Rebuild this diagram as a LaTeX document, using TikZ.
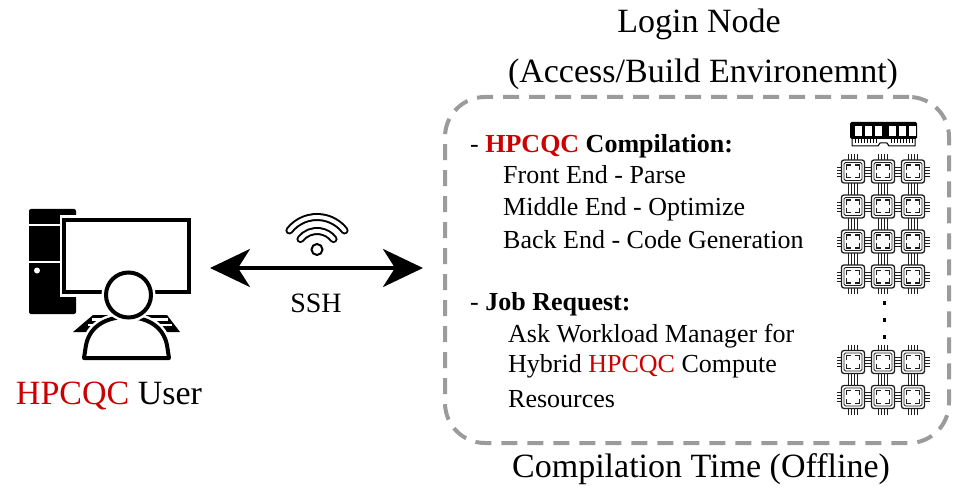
\documentclass[tikz,border=0pt]{standalone}
\usepackage{fontspec}
\setmainfont{Liberation Serif}
\usetikzlibrary{arrows.meta}
\definecolor{hpcred}{RGB}{204,0,0}
\definecolor{boxgray}{RGB}{155,155,155}
\definecolor{chipink}{RGB}{30,30,30}

\begin{document}
\begin{tikzpicture}[x=1pt,y=-1pt,
  title/.style={font=\fontsize{34}{40}\selectfont, anchor=base, inner sep=0pt},
  item/.style={font=\fontsize{26}{30}\selectfont, anchor=base west, inner sep=0pt},
  gap/.style={white, line width=9pt},
  outline/.style={black, line width=4pt},
  wifiarc/.style={line width=8pt, line cap=round},
  wifiinner/.style={white, line width=4pt, line cap=round},
  pinline/.style={line width=0.85pt},
  cpuchip/.pic={
    \begin{scope}[chipink]
    \draw[line width=1.3pt, rounded corners=2.5pt] (-11.5,-11.5) rectangle (11.5,11.5);
    \draw[line width=0.9pt, rounded corners=1.5pt] (-9,-9) rectangle (9,9);
    \draw[line width=1.4pt] (-6.3,-1.8) -- (-6.3,-6.3) -- (-2,-6.3);
    \draw[line width=1.4pt] (6.3,-1.8) -- (6.3,-6.3) -- (2,-6.3);
    \draw[line width=1.4pt] (-6.3,1.8) -- (-6.3,6.3) -- (-2,6.3);
    \draw[line width=1.4pt] (6.3,1.8) -- (6.3,6.3) -- (2,6.3);
    \foreach \p in {-4.5,-1.5,1.5,4.5} {
      \draw[pinline] (\p,-11.5) -- (\p,-17.5);
      \draw[pinline] (\p,11.5) -- (\p,17.5);
      \draw[pinline] (-11.5,\p) -- (-16.5,\p);
      \draw[pinline] (11.5,\p) -- (16.5,\p);
    }
    \end{scope}
  }
]
\useasboundingbox (0,0) rectangle (953,489);

% ---------- user workstation ----------
% tower
\fill[black, rounded corners=2pt] (29,209) rectangle (76,314);
\draw[white, line width=2pt] (29,225) -- (62,225);
\draw[white, line width=2pt] (29,262) -- (62,262);
\fill[white] (37,270.5) circle (3);
% monitor
\draw[gap] (64,220) rectangle (189,292);
\draw[outline, fill=white] (64,220) rectangle (189,292);
% keyboard
\fill[black] (93,315) -- (167,315) -- (180,332) -- (73,332) -- cycle;
\draw[white, line width=2.5pt] (92,319.5) -- (168,319.5);
\draw[white, line width=2.5pt] (88,325) -- (172,325);
% person
\def\torso{(84,358) -- (86,345) .. controls (90,325) and (108,317) .. (126.5,317) .. controls (145,317) and (163,325) .. (167,345) -- (169,358) -- cycle}
\draw[gap] \torso;
\draw[outline, fill=white, line join=round] \torso;
\draw[gap] (128.5,295) circle (22.5);
\draw[outline, fill=white] (128.5,295) circle (22.5);

\node[font=\fontsize{34}{40}\selectfont, anchor=base, inner sep=0pt] (userlabel) at (109,404)
  {\textcolor{hpcred}{HPCQC} User};

% ---------- SSH link ----------
\coordinate (userport) at (210,268);
\coordinate (loginport) at (423,268);
\draw[line width=4pt, {Stealth[length=40pt,width=38pt,inset=12pt]}-{Stealth[length=40pt,width=38pt,inset=12pt]}]
  (userport) -- (loginport);

% wifi symbol
\coordinate (wifi) at (317,252);
\draw[wifiarc] (wifi) ++(-142:35) arc[start angle=-142, end angle=-38, radius=35];
\draw[wifiinner] (wifi) ++(-142:35) arc[start angle=-142, end angle=-38, radius=35];
\draw[wifiarc] (wifi) ++(-142:21) arc[start angle=-142, end angle=-38, radius=21];
\draw[wifiinner] (wifi) ++(-142:21) arc[start angle=-142, end angle=-38, radius=21];
\draw[line width=2pt] (317,249.5) circle (5.5);

\node[font=\fontsize{28}{32}\selectfont, anchor=base, inner sep=0pt] (ssh) at (316,312) {SSH};

% ---------- login node ----------
\node[draw=boxgray, line width=4pt, dash pattern=on 16pt off 10pt, rounded corners=40pt,
      minimum width=504pt, minimum height=346pt, inner sep=0pt] (login) at (697,270) {};

\node[title] (logintitle) at (699,33) {Login Node};
\node[title] (loginsub) at (703,83) {(Access/Build Environemnt)};
\node[title] (phase) at (701,477) {Compilation Time (Offline)};

\node[item] (comp) at (470,153) {- \textbf{\textcolor{hpcred}{HPCQC} Compilation:}};
\node[item] (front) at (503,184) {Front End - Parse};
\node[item] (middle) at (503,215) {Middle End - Optimize};
\node[item] (back) at (503,248) {Back End - Code Generation};
\node[item] (job) at (470,310) {- \textbf{Job Request:}};
\node[item] (ask) at (508,342) {Ask Workload Manager for};
\node[item] (hybrid) at (508,372) {Hybrid \textcolor{hpcred}{HPCQC} Compute};
\node[item] (res) at (508,407) {Resources};

% memory module
\fill[black, rounded corners=1.5pt] (850,122) rectangle (917,139);
\foreach \wx in {855,865,875,889,899,909} {
  \fill[white] (\wx,126.5) rectangle +(7,10);
}
\draw[line width=1pt, line join=round] (852,139) -- (852,146) -- (878,146) -- (880,143) -- (887,143) -- (889,146) -- (915,146) -- (915,139);
\foreach \tx in {855,858,...,876} { \draw[line width=0.8pt] (\tx,139) -- (\tx,143.5); }
\foreach \tx in {891,894,...,913} { \draw[line width=0.8pt] (\tx,139) -- (\tx,143.5); }

% compute chips
\foreach \cy in {171.5,206.5,241.5,276.5,362,397} {
  \foreach \cx in {853,883,913} {
    \pic at (\cx,\cy) {cpuchip};
  }
}
\foreach \dy in {303,320,337} {
  \fill (882.5,\dy-1.75) rectangle +(3.5,3.5);
}
\end{tikzpicture}
\end{document}
